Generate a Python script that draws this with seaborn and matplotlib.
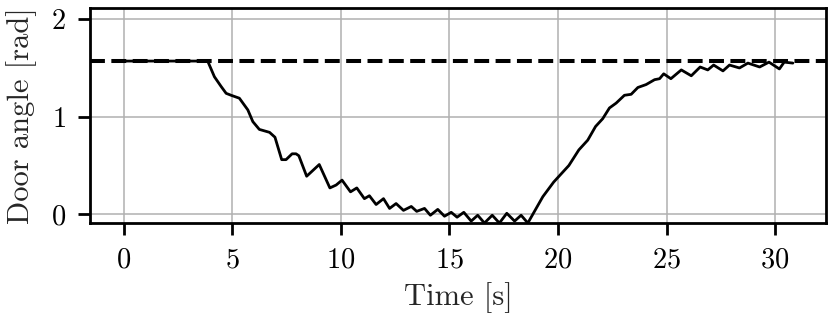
import numpy as np
import pandas as pd
import matplotlib
matplotlib.use("Agg")
import matplotlib.pyplot as plt
import seaborn as sns

# door angle trace
time_s = [0.0, 1.0, 2.0, 3.0, 3.86, 4.17, 4.48, 4.71, 4.94, 5.32, 5.71, 5.94, 6.24,
          6.71, 6.96, 7.27, 7.47, 7.75, 7.93, 8.06, 8.42, 9.0, 9.49, 9.78, 10.05,
          10.44, 10.73, 11.08, 11.31, 11.62, 11.96, 12.24, 12.54, 12.88, 13.24,
          13.49, 13.85, 14.12, 14.46, 14.77, 15.08, 15.35, 15.66, 16.0, 16.3,
          16.61, 16.97, 17.3, 17.64, 18.0, 18.3, 18.61, 19.3, 19.8, 20.5, 20.96,
          21.37, 21.73, 22.06, 22.37, 22.68, 23.06, 23.37, 23.68, 24.06, 24.45,
          24.68, 24.87, 25.2, 25.68, 26.14, 26.55, 26.9, 27.17, 27.6, 27.9, 28.36,
          28.75, 29.29, 29.72, 30.2, 30.42, 30.82]
door_angle = [1.5708, 1.5708, 1.5708, 1.5708, 1.5708, 1.41, 1.31, 1.24, 1.22, 1.19,
              1.07, 0.95, 0.87, 0.84, 0.79, 0.56, 0.56, 0.62, 0.62, 0.6, 0.39, 0.51,
              0.27, 0.3, 0.35, 0.23, 0.27, 0.16, 0.19, 0.1, 0.16, 0.06, 0.11, 0.04,
              0.08, 0.03, 0.06, -0.01, 0.05, -0.02, 0.02, -0.03, 0.02, -0.07, -0.01,
              -0.09, -0.01, -0.09, 0.01, -0.07, -0.01, -0.09, 0.18, 0.33, 0.5, 0.66,
              0.76, 0.9, 0.98, 1.09, 1.14, 1.22, 1.23, 1.3, 1.33, 1.38, 1.39, 1.44,
              1.39, 1.48, 1.42, 1.51, 1.48, 1.53, 1.47, 1.53, 1.5, 1.55, 1.51, 1.56,
              1.49, 1.56, 1.55]
target_angle = 1.5708  # pi/2, the dashed reference

x_ticks = [0, 5, 10, 15, 20, 25, 30]
y_ticks = [0, 1, 2]

sns.set_theme(style="whitegrid")
plt.rcParams.update({
    "font.family": ["cmr10", "DejaVu Serif"],
    "mathtext.fontset": "cm",
    "axes.formatter.use_mathtext": True,
    "axes.edgecolor": "black",
    "axes.linewidth": 2.0,
    "grid.color": "#b0b0b0",
    "grid.linewidth": 1.1,
    "xtick.bottom": True,
    "ytick.left": True,
    "xtick.major.size": 8.5,
    "ytick.major.size": 8.5,
    "xtick.major.width": 2.0,
    "ytick.major.width": 2.0,
    "xtick.color": "black",
    "ytick.color": "black",
    "xtick.labelsize": 20.5,
    "ytick.labelsize": 20.5,
    "axes.labelsize": 22,
})

df = pd.DataFrame({"Time [s]": time_s, "Door angle [rad]": door_angle})

fig, ax = plt.subplots(figsize=(8.3, 3.26), dpi=100)
sns.lineplot(data=df, x="Time [s]", y="Door angle [rad]", color="black", lw=2.0, ax=ax)
ax.axhline(target_angle, color="black", ls="--", lw=2.9)

ax.set_xticks(x_ticks)
ax.set_yticks(y_ticks)
ax.set_xlim(-1.54, 32.34)
ax.set_ylim(-0.086, 2.11)
ax.tick_params(axis="x", pad=9)
ax.tick_params(axis="y", pad=9)
ax.xaxis.labelpad = 6
ax.yaxis.labelpad = 10

fig.subplots_adjust(left=0.109, right=0.995, top=0.974, bottom=0.317)
fig.savefig("out.png", dpi=100)
